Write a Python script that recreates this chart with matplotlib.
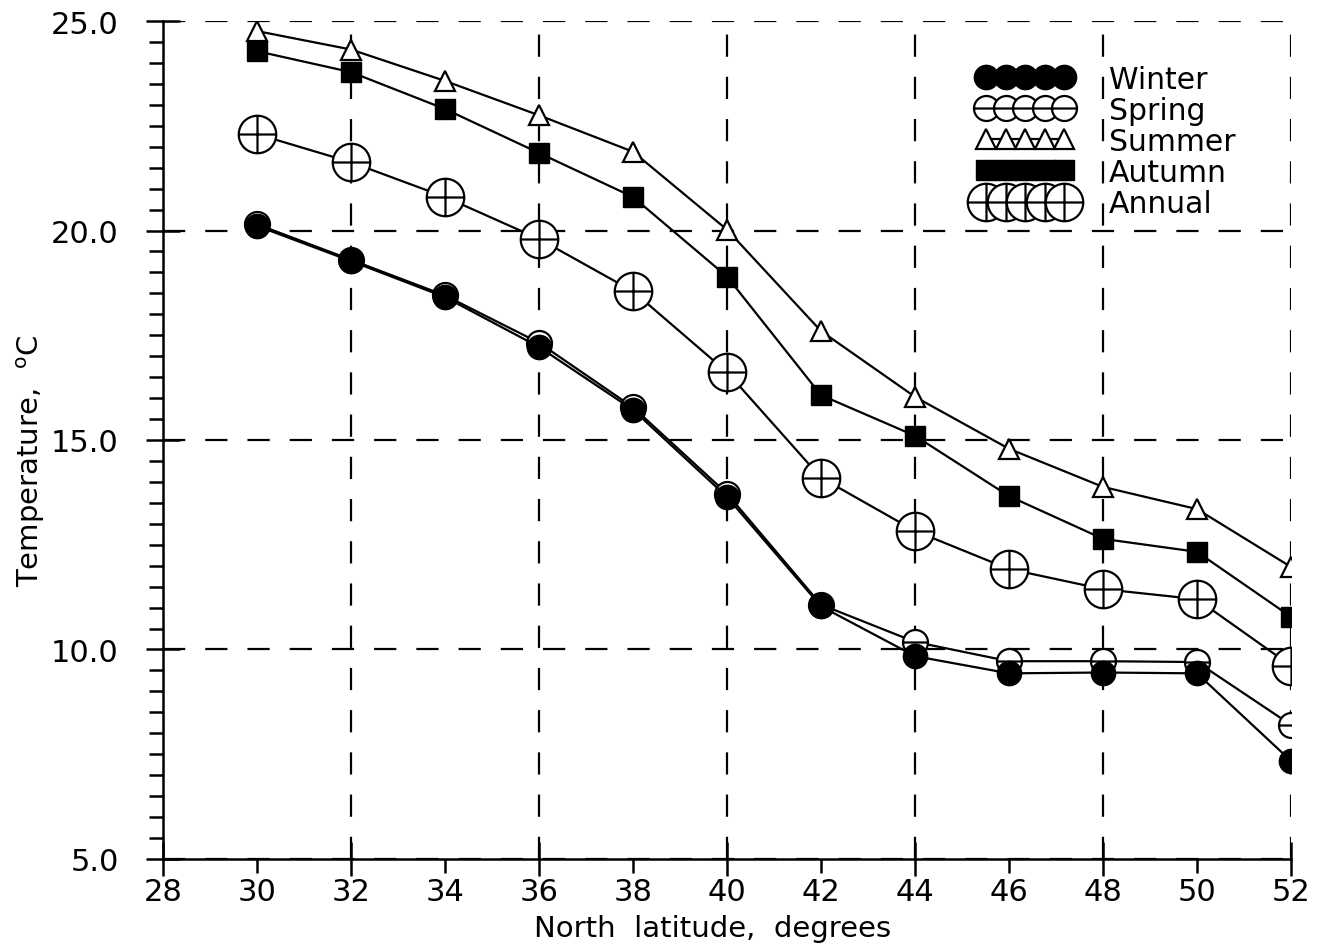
import matplotlib
matplotlib.use("Agg")
import matplotlib.pyplot as plt
import numpy as np
from matplotlib.path import Path
from matplotlib.ticker import MultipleLocator, FixedLocator, FormatStrFormatter

latitude = [30, 32, 34, 36, 38, 40, 42, 44, 46, 48, 50, 52]

winter = [20.11, 19.27, 18.41, 17.22, 15.72, 13.64, 11.03, 9.84, 9.43, 9.45, 9.43, 7.34]
spring = [20.15, 19.30, 18.45, 17.32, 15.78, 13.72, 11.07, 10.18, 9.72, 9.72, 9.70, 8.20]
summer = [24.76, 24.32, 23.57, 22.75, 21.88, 20.02, 17.60, 16.03, 14.79, 13.88, 13.35, 11.97]
autumn = [24.28, 23.78, 22.90, 21.85, 20.80, 18.90, 16.07, 15.10, 13.66, 12.64, 12.33, 10.78]
annual = [22.30, 21.63, 20.80, 19.80, 18.55, 16.62, 14.10, 12.83, 11.92, 11.44, 11.20, 9.61]

# circle with a bar through it, and circle with a cross
circ = Path.unit_circle()
hbar = Path([[-1.0, 0.0], [1.0, 0.0]], [Path.MOVETO, Path.LINETO])
vbar = Path([[0.0, -1.0], [0.0, 1.0]], [Path.MOVETO, Path.LINETO])
circle_bar = Path.make_compound_path(circ, hbar)
circle_cross = Path.make_compound_path(circ, hbar, vbar)

plt.rcParams['font.family'] = ['DejaVu Sans']

fig = plt.figure(figsize=(13.21, 9.45), dpi=100)
ax = fig.add_axes([0.1234, 0.09, 0.8539, 0.8867])

lw = 1.6
ax.plot(latitude, spring, color='black', lw=lw, marker=circle_bar, ms=18,
        mfc='white', mec='black', mew=1.6, label='Spring', zorder=3)
ax.plot(latitude, winter, color='black', lw=lw, marker='o', ms=17.5,
        mfc='black', mec='black', label='Winter', zorder=4)
ax.plot(latitude, summer, color='black', lw=lw, marker='^', ms=15,
        mfc='white', mec='black', mew=1.6, label='Summer', zorder=3)
ax.plot(latitude, autumn, color='black', lw=lw, marker='s', ms=14,
        mfc='black', mec='black', label='Autumn', zorder=3)
ax.plot(latitude, annual, color='black', lw=lw, marker=circle_cross, ms=27,
        mfc='white', mec='black', mew=1.6, label='Annual', zorder=3)

ax.set_xlim(28, 52)
ax.set_ylim(5, 25)

ax.xaxis.set_major_locator(MultipleLocator(4))
ax.xaxis.set_minor_locator(FixedLocator(np.arange(30, 52, 4)))
ax.xaxis.set_major_formatter(FormatStrFormatter('%d'))
ax.xaxis.set_minor_formatter(FormatStrFormatter('%d'))
ax.yaxis.set_major_locator(MultipleLocator(5))
ax.yaxis.set_minor_locator(MultipleLocator(0.5))
ax.yaxis.set_major_formatter(FormatStrFormatter('%.1f'))

ax.tick_params(axis='both', which='major', direction='inout', length=24,
               width=1.8, labelsize=22, color='black')
ax.tick_params(axis='both', which='minor', direction='out', length=10,
               width=1.8, labelsize=22, color='black')
ax.tick_params(axis='x', which='major', pad=1)
ax.tick_params(axis='x', which='minor', pad=3)
ax.tick_params(axis='y', which='major', pad=20)

ax.grid(which='major', color='black', ls=(0, (10, 9)), lw=1.6)
ax.set_axisbelow(True)

for side in ('top', 'right'):
    ax.spines[side].set_visible(False)
for side in ('left', 'bottom'):
    ax.spines[side].set_linewidth(1.8)

ax.set_xlabel('North  latitude,  degrees', fontsize=21)
ax.set_ylabel('Temperature,  $^{\\rm o}$C', fontsize=21)
ax.xaxis.set_label_coords(0.487, -0.066)
ax.yaxis.set_label_coords(-0.103, 0.476)

handles, labels = ax.get_legend_handles_labels()
order = [1, 0, 2, 3, 4]
ax.legend([handles[i] for i in order], [labels[i] for i in order],
          loc='upper left', bbox_to_anchor=(0.722, 0.948), frameon=False,
          numpoints=5, handlelength=3.2, handletextpad=1.2,
          labelspacing=0.07, borderpad=0, borderaxespad=0, fontsize=21.5)

fig.savefig('out.png', dpi=100, facecolor='white')
